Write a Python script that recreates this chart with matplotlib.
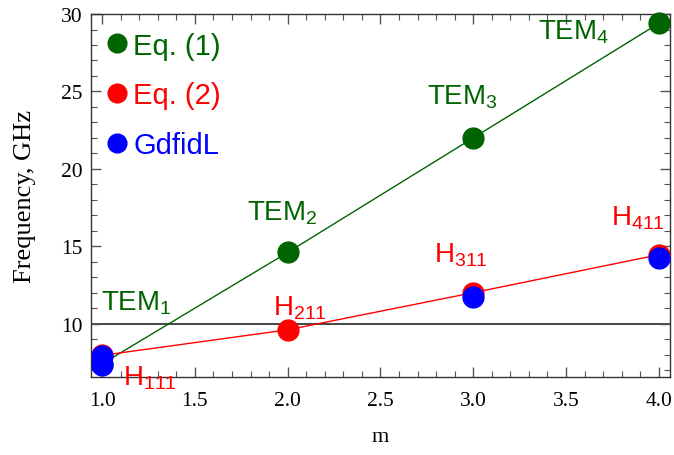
import numpy as np
import matplotlib
matplotlib.use("Agg")
import matplotlib.pyplot as plt
from matplotlib.ticker import MultipleLocator

plt.rcParams['mathtext.fontset'] = 'custom'
plt.rcParams['mathtext.rm'] = 'Liberation Sans'
plt.rcParams['mathtext.it'] = 'Liberation Sans'

# mode number and frequencies (GHz)
m = [1, 2, 3, 4]
f_eq1 = [7.4, 14.6, 22.0, 29.4]
f_eq2 = [7.95, 9.6, 12.0, 14.45]
m_gdf = [1, 1, 3, 4]
f_gdf = [7.9, 7.35, 11.75, 14.25]

tem_labels = ['TEM$_1$', 'TEM$_2$', 'TEM$_3$', 'TEM$_4$']
h_labels = ['H$_{111}$', 'H$_{211}$', 'H$_{311}$', 'H$_{411}$']
# label anchor positions (data coords, left/baseline)
tem_pos = [(0.995, 10.9), (1.78, 16.7), (2.75, 24.2), (3.35, 28.4)]
h_pos = [(1.11, 6.05), (1.92, 10.6), (2.79, 14.0), (3.74, 16.4)]

green = '#006400'
red = '#ff0000'
blue = '#0000ff'

fig = plt.figure(figsize=(6.74, 4.56), dpi=100)
ax = fig.add_axes([0.135, 0.171, 0.859, 0.796])

ax.axhline(10, color='#444444', lw=1.4, zorder=1)
ax.plot(m, f_eq1, color=green, lw=1, zorder=2)
ax.plot(m, f_eq2, color=red, lw=1, zorder=2)
ax.plot(m, f_eq1, 'o', color=green, ms=15, zorder=3, label='Eq. (1)', clip_on=False)
ax.plot(m, f_eq2, 'o', color=red, ms=15, zorder=4, label='Eq. (2)', clip_on=False)
ax.plot(m_gdf, f_gdf, 'o', color=blue, ms=15, zorder=5, label='GdfidL', clip_on=False)

for s, (x, y) in zip(tem_labels, tem_pos):
    ax.text(x, y, s, color=green, fontsize=20, family='Liberation Sans',
            ha='left', va='baseline', clip_on=False)
for s, (x, y) in zip(h_labels, h_pos):
    ax.text(x, y, s, color=red, fontsize=20, family='Liberation Sans',
            ha='left', va='baseline', clip_on=False)

leg = ax.legend(loc='upper left', frameon=False, handlelength=0.6,
                handletextpad=0.25, labelspacing=0.75, borderaxespad=0.2,
                prop={'family': 'Liberation Sans', 'size': 21},
                markerscale=0.9, labelcolor='markerfacecolor')

ax.set_xlim(0.94, 4.06)
ax.set_ylim(6.55, 30)
ax.xaxis.set_major_locator(MultipleLocator(0.5))
ax.xaxis.set_minor_locator(MultipleLocator(0.1))
ax.yaxis.set_major_locator(MultipleLocator(5))
ax.yaxis.set_minor_locator(MultipleLocator(1))
ax.xaxis.set_major_formatter(plt.FormatStrFormatter('%.1f'))
ax.tick_params(which='both', direction='in', top=True, right=True,
               color='#555555', labelsize=15.5, labelfontfamily='Liberation Serif')
ax.tick_params(which='major', length=7, width=1)
ax.tick_params(which='minor', length=4, width=0.8)
ax.tick_params(axis='x', pad=10)
ax.tick_params(axis='y', pad=6)
for sp in ax.spines.values():
    sp.set_color('#333333')
    sp.set_linewidth(1)

ax.set_xlabel('m', family='Liberation Serif', fontsize=16, labelpad=12)
ax.set_ylabel('Frequency, GHz', family='Liberation Serif', fontsize=19, labelpad=18)

fig.savefig('out.png', dpi=100)
